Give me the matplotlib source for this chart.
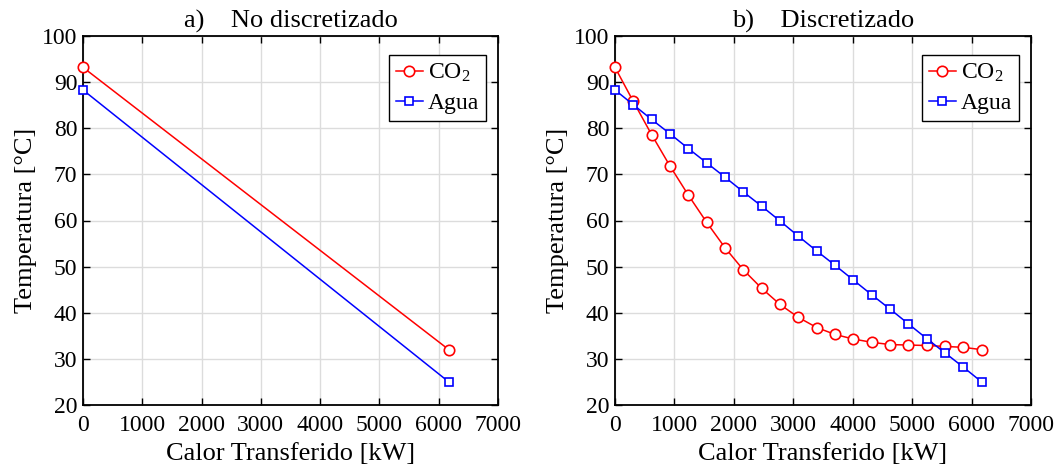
import numpy as np
import matplotlib.pyplot as plt

plt.rcParams['font.family'] = 'Liberation Serif'
plt.rcParams['mathtext.fontset'] = 'custom'
plt.rcParams['mathtext.rm'] = 'Liberation Serif'
plt.rcParams['mathtext.it'] = 'Liberation Serif'

# a) no discretizado: solo extremos
Q_a = [0, 6170]
T_co2_a = [93.2, 32.0]
T_agua_a = [88.3, 25.0]

# b) discretizado: 21 nodos
Q_b = [0, 308.5, 617, 925.5, 1234, 1542.5, 1851, 2159.5, 2468, 2776.5, 3085,
       3393.5, 3702, 4010.5, 4319, 4627.5, 4936, 5244.5, 5553, 5861.5, 6170]
T_co2_b = [93.2, 85.8, 78.6, 71.8, 65.5, 59.6, 54.1, 49.3, 45.3, 41.8, 39.0,
           36.8, 35.3, 34.3, 33.6, 33.1, 33.0, 32.9, 32.7, 32.5, 32.0]
T_agua_b = [88.3, 85.1, 81.9, 78.8, 75.6, 72.5, 69.4, 66.2, 63.1, 59.9, 56.6,
            53.4, 50.3, 47.1, 43.9, 40.8, 37.6, 34.4, 31.3, 28.2, 25.0]

titles = ['a)    No discretizado', 'b)    Discretizado']

fig = plt.figure(figsize=(10.59, 4.75), dpi=100)
ax1 = fig.add_axes([83/1059, 70/475, 415/1059, 369/475])
ax2 = fig.add_axes([615/1059, 70/475, 416/1059, 369/475])

data = [(Q_a, T_co2_a, T_agua_a), (Q_b, T_co2_b, T_agua_b)]
for ax, (q, tc, tw), tt in zip([ax1, ax2], data, titles):
    ax.plot(q, tc, '-o', color='#ff0000', lw=1.1, ms=7.5, mew=1.2,
            mfc='white', label=r'CO$_2$', zorder=3, clip_on=False)
    ax.plot(q, tw, '-s', color='#0000ff', lw=1.1, ms=5.5, mew=1.2,
            mfc='white', label='Agua', zorder=3, clip_on=False)
    ax.set_xlim(0, 7000)
    ax.set_ylim(20, 100)
    ax.set_xticks(np.arange(0, 7001, 1000))
    ax.set_yticks(np.arange(20, 101, 10))
    ax.grid(True, color='#dcdcdc', lw=1.0)
    ax.set_axisbelow(True)
    ax.tick_params(direction='in', length=5, width=1.0, labelsize=17,
                   top=True, right=True, pad=4)
    ax.tick_params(axis='x', pad=7)
    for s in ax.spines.values():
        s.set_linewidth(1.3)
    ax.set_xlabel('Calor Transferido [kW]', fontsize=19, labelpad=5)
    ax.set_ylabel('Temperatura [°C]', fontsize=19, labelpad=4)
    ax.set_title(tt, fontsize=19, pad=6)
    leg = ax.legend(loc='upper right', bbox_to_anchor=(1 - 12/415, 1 - 19/369),
                    fontsize=17, handlelength=1.15, handletextpad=0.2,
                    borderpad=0.3, labelspacing=0.35, borderaxespad=0,
                    fancybox=False, framealpha=1)
    leg.get_frame().set_edgecolor('black')
    leg.get_frame().set_linewidth(1.0)

fig.savefig('out.png', dpi=100)
